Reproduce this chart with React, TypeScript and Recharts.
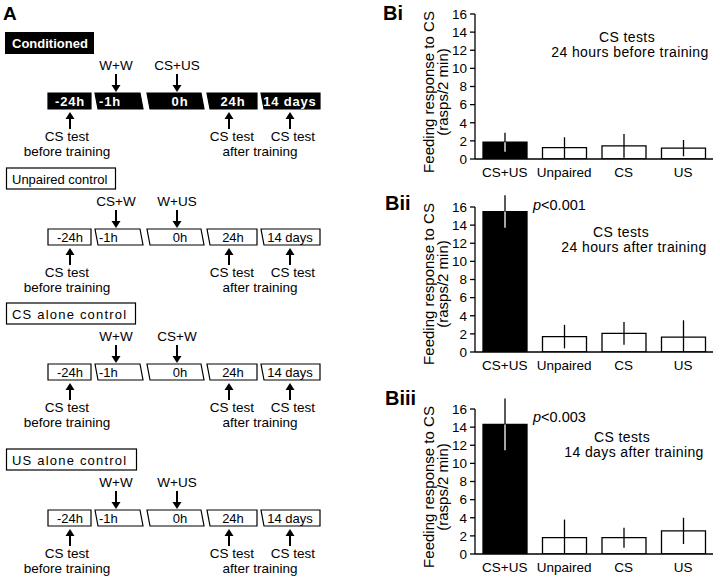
import { BarChart, Bar, XAxis, YAxis, Cell, ErrorBar } from 'recharts'

// --- Data ---

const groups = ['CS+US', 'Unpaired', 'CS', 'US']

// Bi: CS tests 24 hours before training
const beforeMeans = [1.85, 1.25, 1.45, 1.2]
const beforeSem = [1.05, 1.15, 1.3, 0.9]

// Bii: CS tests 24 hours after training
const after24hMeans = [15.5, 1.7, 2.05, 1.65]
const after24hSem = [1.8, 1.3, 1.25, 1.85]

// Biii: CS tests 14 days after training
const after14dMeans = [14.3, 1.8, 1.8, 2.55]
const after14dSem = [2.85, 2.0, 1.1, 1.45]

const yTicks = [0, 2, 4, 6, 8, 10, 12, 14, 16]

// Panel A protocol
const protocolNames = ['Conditioned', 'Unpaired control', 'CS alone control', 'US alone control']
const minusOneHourTreatment = ['W+W', 'CS+W', 'W+W', 'W+W']
const zeroHourTreatment = ['CS+US', 'W+US', 'CS+W', 'W+US']
const timePoints = ['-24h', '-1h', '0h', '24h', '14 days']

// --- Layout ---

const FONT = '"Liberation Sans", Arial, Helvetica, sans-serif'
const rowTops = [93, 229, 364, 510]
const labelBoxWidths = [89, 109, 129, 130]
const boxShapes = [
  [48, 91, 91, 48],
  [95, 140, 143, 98],
  [147, 201, 204, 150],
  [207, 257, 257, 210],
  [261, 320, 320, 264],
]
const boxTextX = [70, 108, 180, 233, 290]

// --- Helpers ---

const buildRows = (means: number[], sem: number[]) =>
  groups.map((name, i) => {
    const low = Math.min(sem[i], means[i])
    const filled = i === 0
    return {
      name,
      mean: means[i],
      up: [0, sem[i]],
      lowDark: filled ? [0, 0] : [low, 0],
      lowLight: filled ? [low, 0] : [0, 0],
    }
  })

const DownArrow = ({ x, y1, y2 }: { x: number; y1: number; y2: number }) => (
  <g>
    <line x1={x} y1={y1} x2={x} y2={y2 - 6} stroke="#000" strokeWidth={2} />
    <polygon points={`${x - 4.5},${y2 - 7} ${x + 4.5},${y2 - 7} ${x},${y2}`} fill="#000" />
  </g>
)

const UpArrow = ({ x, y1, y2 }: { x: number; y1: number; y2: number }) => (
  <g>
    <line x1={x} y1={y1 + 6} x2={x} y2={y2} stroke="#000" strokeWidth={2} />
    <polygon points={`${x - 4.5},${y1 + 7} ${x + 4.5},${y1 + 7} ${x},${y1}`} fill="#000" />
  </g>
)

const ProtocolRow = ({ idx }: { idx: number }) => {
  const T = rowTops[idx]
  const dark = idx === 0
  const spacing = idx >= 2 ? 1.2 : 0
  return (
    <g fontFamily={FONT} fontSize={13.5}>
      {dark ? (
        <rect x={5} y={T - 61} width={labelBoxWidths[idx]} height={22} fill="#000" />
      ) : (
        <rect x={6.5} y={T - 61} width={labelBoxWidths[idx]} height={21} fill="#fff" stroke="#000" strokeWidth={1.2} />
      )}
      <text
        x={12}
        y={T - 45}
        fontSize={13}
        fill={dark ? '#fff' : '#000'}
        fontWeight={dark ? 700 : 400}
        letterSpacing={spacing}
      >
        {protocolNames[idx]}
      </text>

      <text x={116} y={T - 23} textAnchor="middle">{minusOneHourTreatment[idx]}</text>
      <text x={177} y={T - 23} textAnchor="middle">{zeroHourTreatment[idx]}</text>
      <DownArrow x={116} y1={T - 19} y2={T - 1} />
      <DownArrow x={177} y1={T - 19} y2={T - 1} />

      {timePoints.map((tp, i) => {
        const [a, b, c, d] = boxShapes[i]
        return (
          <g key={tp}>
            <polygon
              points={`${a},${T} ${b},${T} ${c},${T + 16} ${d},${T + 16}`}
              fill={dark ? '#000' : '#fff'}
              stroke="#000"
              strokeWidth={1.2}
            />
            <text
              x={i === 1 ? 99 : boxTextX[i]}
              y={T + 12.5}
              fontSize={13}
              textAnchor={i === 1 ? 'start' : 'middle'}
              fill={dark ? '#fff' : '#000'}
              fontWeight={dark ? 700 : 400}
              letterSpacing={dark ? 0.8 : 0}
            >
              {tp}
            </text>
          </g>
        )
      })}

      <UpArrow x={70} y1={T + 19} y2={T + 36} />
      <UpArrow x={229} y1={T + 19} y2={T + 36} />
      <UpArrow x={290} y1={T + 19} y2={T + 36} />
      <text x={67} y={T + 48} textAnchor="middle">CS test</text>
      <text x={67} y={T + 63} textAnchor="middle">before training</text>
      <text x={232} y={T + 48} textAnchor="middle">CS test</text>
      <text x={293} y={T + 48} textAnchor="middle">CS test</text>
      <text x={260} y={T + 63} textAnchor="middle">after training</text>
    </g>
  )
}

const TestChart = ({ top, means, sem }: { top: number; means: number[]; sem: number[] }) => {
  const rows = buildRows(means, sem)
  return (
    <div style={{ position: 'absolute', left: 380, top }}>
      <BarChart
        width={340}
        height={190}
        data={rows}
        margin={{ top: 14, right: 7, bottom: 6, left: 50 }}
        barSize={44}
      >
        <XAxis
          dataKey="name"
          interval={0}
          height={25}
          axisLine={{ stroke: '#000', strokeWidth: 1.3 }}
          tickLine={false}
          tickSize={0}
          tickMargin={8}
          tick={{ fill: '#000', fontSize: 13.5, fontFamily: FONT }}
        />
        <YAxis
          domain={[0, 16]}
          ticks={yTicks}
          interval={0}
          allowDataOverflow
          width={45}
          axisLine={{ stroke: '#000', strokeWidth: 1.3 }}
          tickLine={{ stroke: '#000', strokeWidth: 1.3 }}
          tickSize={5}
          tickMargin={3}
          tick={{ fill: '#000', fontSize: 13.5, fontFamily: FONT }}
        />
        <Bar dataKey="mean" isAnimationActive={false} stroke="#000" strokeWidth={1.3}>
          {rows.map((r, i) => (
            <Cell key={r.name} fill={i === 0 ? '#000' : '#fff'} />
          ))}
          <ErrorBar dataKey="up" width={0} stroke="#000" strokeWidth={1.3} isAnimationActive={false} />
          <ErrorBar dataKey="lowDark" width={0} stroke="#000" strokeWidth={1.3} isAnimationActive={false} />
          <ErrorBar dataKey="lowLight" width={0} stroke="#fff" strokeWidth={1.3} isAnimationActive={false} />
        </Bar>
      </BarChart>
    </div>
  )
}

const YLabel = ({ cy }: { cy: number }) => (
  <g fontFamily={FONT} fontSize={15}>
    <text transform={`translate(434,${cy}) rotate(-90)`} textAnchor="middle">Feeding response to CS</text>
    <text transform={`translate(448,${cy}) rotate(-90)`} textAnchor="middle">(rasps/2 min)</text>
  </g>
)

export default function App() {
  return (
    <div
      style={{
        position: 'absolute',
        left: 0,
        top: 0,
        width: 720,
        height: 578,
        overflow: 'hidden',
        background: '#fff',
        fontFamily: FONT,
      }}
    >
      <TestChart top={0} means={beforeMeans} sem={beforeSem} />
      <TestChart top={193} means={after24hMeans} sem={after24hSem} />
      <TestChart top={395} means={after14dMeans} sem={after14dSem} />

      <svg
        width={720}
        height={578}
        style={{ position: 'absolute', left: 0, top: 0, pointerEvents: 'none' }}
      >
        <text x={3} y={20} fontFamily={FONT} fontSize={19} fontWeight={700}>A</text>
        {protocolNames.map((_, i) => (
          <ProtocolRow key={i} idx={i} />
        ))}

        <g fontFamily={FONT} fontSize={20} fontWeight={700}>
          <text x={383} y={20}>Bi</text>
          <text x={385} y={210}>Bii</text>
          <text x={385} y={405}>Biii</text>
        </g>

        <YLabel cy={92} />
        <YLabel cy={284} />
        <YLabel cy={487} />

        <g fontFamily={FONT} fontSize={14} textAnchor="middle" letterSpacing={0.4}>
          <text x={627} y={42}>CS tests</text>
          <text x={630} y={57}>24 hours before training</text>
          <text x={621} y={237}>CS tests</text>
          <text x={634} y={252}>24 hours after training</text>
          <text x={622} y={442}>CS tests</text>
          <text x={634} y={457}>14 days after training</text>
        </g>
        <g fontFamily={FONT} fontSize={14.5}>
          <text x={533} y={210}>
            <tspan fontStyle="italic">p</tspan>&lt;0.001
          </text>
          <text x={533} y={422}>
            <tspan fontStyle="italic">p</tspan>&lt;0.003
          </text>
        </g>
      </svg>
    </div>
  )
}
